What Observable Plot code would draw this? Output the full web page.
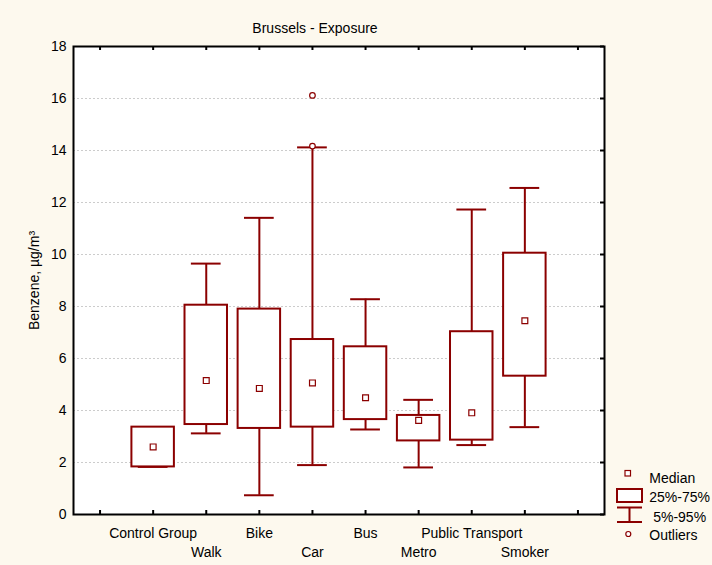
<!DOCTYPE html>
<html>
<head>
<meta charset="utf-8">
<script src="https://cdn.jsdelivr.net/npm/d3@7"></script>
<script src="https://cdn.jsdelivr.net/npm/@observablehq/plot@0.6"></script>
<style>
  html, body { margin: 0; padding: 0; background: #fdf9ee; }
  #chart { position: relative; width: 712px; height: 565px; }
</style>
</head>
<body>
<div id="chart"></div>
<script>
// ---- data ----
const title = "Brussels - Exposure";
const yLabel = "Benzene, µg/m³";
const categories = ["Control Group", "Walk", "Bike", "Car", "Bus", "Metro", "Public Transport", "Smoker"];
const medians = [2.60, 5.15, 4.85, 5.06, 4.49, 3.62, 3.91, 7.45];
const q25 = [1.83, 3.46, 3.31, 3.36, 3.65, 2.83, 2.86, 5.32];
const q75 = [3.36, 8.05, 7.90, 6.73, 6.45, 3.81, 7.03, 10.05];
const p05 = [1.83, 3.12, 0.74, 1.90, 3.27, 1.81, 2.67, 3.36];
const p95 = [3.36, 9.65, 11.41, 14.12, 8.28, 4.41, 11.73, 12.56];
const outlierCategories = ["Car", "Car"];
const outlierValues = [14.17, 16.12];
const yTicks = [0, 2, 4, 6, 8, 10, 12, 14, 16, 18];
const gridTicks = [2, 4, 6, 8, 10, 12, 14, 16];
const xTickSlots = [0, 1, 2, 3, 4, 5, 6, 7, 8, 9];
const legendLabels = ["Median", "25%-75%", " 5%-95%", "Outliers"];

// ---- build tables ----
const rows = categories.map((c, i) => ({
  cat: c, pos: i + 1, median: medians[i], q1: q25[i], q3: q75[i], lo: p05[i], hi: p95[i]
}));
const outliers = outlierValues.map((v, i) => ({pos: categories.indexOf(outlierCategories[i]) + 1, v}));

const red = "#8b0000";
const W = 712, H = 565;
const mL = 73, mR = 108, mT = 46, mB = 51;
const plotW = W - mL - mR, plotH = H - mT - mB;
const tickLen = 4;
const boxHalf = 0.4, capHalf = 0.28;

const chart = Plot.plot({
  width: W, height: H,
  marginLeft: mL, marginRight: mR, marginTop: mT, marginBottom: mB,
  style: {background: "transparent", fontFamily: "'Liberation Sans', Arial, sans-serif", fontSize: "14px", color: "black"},
  x: {domain: [-0.5, 9.5], axis: null},
  y: {domain: [0, 18], axis: null},
  marks: [
    Plot.frame({fill: "white", stroke: null}),
    Plot.ruleY(gridTicks, {stroke: "#cccccc", strokeDasharray: "2,2", strokeWidth: 1}),
    // whiskers
    Plot.ruleX(rows, {x: "pos", y1: "q3", y2: "hi", stroke: red, strokeWidth: 2}),
    Plot.ruleX(rows, {x: "pos", y1: "lo", y2: "q1", stroke: red, strokeWidth: 2}),
    Plot.ruleY(rows, {y: "hi", x1: d => d.pos - capHalf, x2: d => d.pos + capHalf, stroke: red, strokeWidth: 2}),
    Plot.ruleY(rows, {y: "lo", x1: d => d.pos - capHalf, x2: d => d.pos + capHalf, stroke: red, strokeWidth: 2}),
    // boxes
    Plot.rect(rows, {x1: d => d.pos - boxHalf, x2: d => d.pos + boxHalf, y1: "q1", y2: "q3", fill: "white", stroke: red, strokeWidth: 2}),
    // medians
    Plot.dot(rows, {x: "pos", y: "median", symbol: "square", r: 3.3, fill: "white", stroke: red, strokeWidth: 1.2}),
    // outliers
    Plot.dot(outliers, {x: "pos", y: "v", r: 2.8, fill: "white", stroke: red, strokeWidth: 1.2}),
    // frame
    Plot.frame({stroke: "black", strokeWidth: 2}),
    // inward ticks
    Plot.ruleX(xTickSlots, {x: d => d, insetTop: plotH - tickLen, stroke: "black", strokeWidth: 2}),
    Plot.ruleX(xTickSlots, {x: d => d, insetBottom: plotH - tickLen, stroke: "black", strokeWidth: 2}),
    Plot.ruleY(yTicks, {y: d => d, insetLeft: plotW - tickLen, stroke: "black", strokeWidth: 2}),
    // y tick labels
    Plot.text(yTicks, {y: d => d, text: d => String(d), frameAnchor: "left", textAnchor: "end", dx: -7, fontSize: 14}),
    // x labels (staggered)
    Plot.text(rows.filter((d, i) => i % 2 === 0), {x: "pos", text: "cat", frameAnchor: "bottom", lineAnchor: "bottom", dy: 23, fontSize: 14}),
    Plot.text(rows.filter((d, i) => i % 2 === 1), {x: "pos", text: "cat", frameAnchor: "bottom", lineAnchor: "bottom", dy: 42, fontSize: 14}),
    // y label
    Plot.text([yLabel], {frameAnchor: "left", rotate: -90, textAnchor: "middle", lineAnchor: "bottom", dx: -35, fontSize: 14}),
    // title
    Plot.text([title], {frameAnchor: "top", textAnchor: "middle", lineAnchor: "bottom", dx: -24, dy: -14, fontSize: 14})
  ]
});

document.getElementById("chart").appendChild(chart);

// ---- legend ----
const svg = d3.select(chart);
const lg = svg.append("g")
  .attr("font-family", "'Liberation Sans', Arial, sans-serif")
  .attr("font-size", 14)
  .attr("text-anchor", "start")
  .attr("fill", "black");
lg.append("rect").attr("x", 625).attr("y", 470.5).attr("width", 5.5).attr("height", 5.5)
  .attr("fill", "white").attr("stroke", red).attr("stroke-width", 1.2);
lg.append("rect").attr("x", 617).attr("y", 489).attr("width", 25).attr("height", 13)
  .attr("fill", "white").attr("stroke", red).attr("stroke-width", 2);
lg.append("line").attr("x1", 617).attr("x2", 642).attr("y1", 507.5).attr("y2", 507.5).attr("stroke", red).attr("stroke-width", 2);
lg.append("line").attr("x1", 617).attr("x2", 642).attr("y1", 522).attr("y2", 522).attr("stroke", red).attr("stroke-width", 2);
lg.append("line").attr("x1", 629.5).attr("x2", 629.5).attr("y1", 507.5).attr("y2", 522).attr("stroke", red).attr("stroke-width", 2);
lg.append("circle").attr("cx", 628.3).attr("cy", 534).attr("r", 2.5).attr("fill", "white").attr("stroke", red).attr("stroke-width", 1.2);
const ly = [482.5, 502, 522, 540];
legendLabels.forEach((t, i) => {
  lg.append("text").attr("x", 649.3).attr("y", ly[i]).attr("text-anchor", "start")
    .style("white-space", "pre").text(t);
});
</script>
</body>
</html>
